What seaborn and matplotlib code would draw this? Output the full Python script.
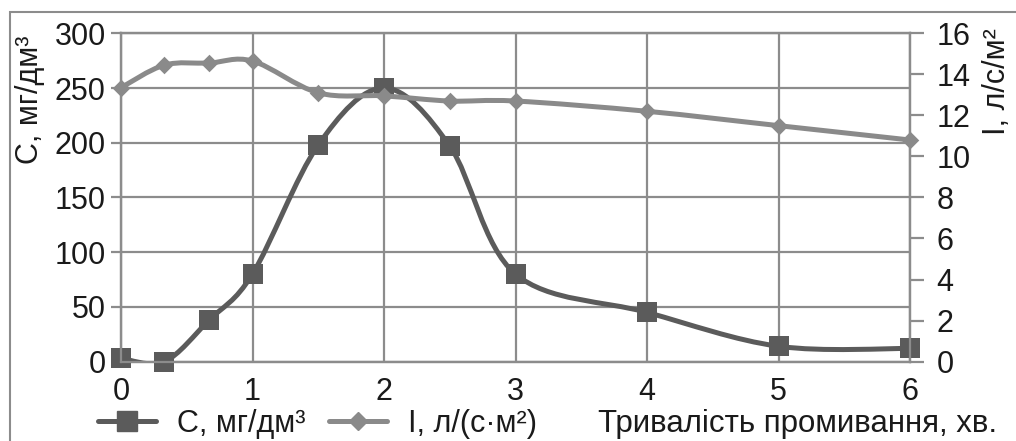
import numpy as np
import pandas as pd
import seaborn as sns
import matplotlib
matplotlib.use("Agg")
import matplotlib.pyplot as plt
from matplotlib.path import Path
from matplotlib.patches import PathPatch, Rectangle
from matplotlib.lines import Line2D

# ---- data ----
time_min = [0, 0.33, 0.67, 1, 1.5, 2, 2.5, 3, 4, 5, 6]
conc = [3, 0, 38, 80, 198, 250, 197, 80, 45, 14, 12]
flux = [13.35, 14.45, 14.55, 14.65, 13.1, 12.95, 12.7, 12.7, 12.2, 11.5, 10.8]
x_ticks = [0, 1, 2, 3, 4, 5, 6]
c_ticks = [0, 50, 100, 150, 200, 250, 300]
i_ticks = [0, 2, 4, 6, 8, 10, 12, 14, 16]
label_c = "C, мг/дм³"
label_i = "I, л/(с·м²)"
label_i_axis = "I, л/с/м²"
label_x = "Тривалість промивання, хв."

df = pd.DataFrame({"t": time_min, "C": conc, "I": flux})

sns.set_theme(style="white")
plt.rcParams["font.family"] = ["Liberation Sans", "DejaVu Sans"]

FS = 22
C_COL = "#5b5b5b"
I_COL = "#8a8a8a"
GRID = "#8c8c8c"
TXT = "#1a1a1a"


def smooth_path(x, y):
    x = list(x); y = list(y)
    n = len(x)
    verts = [(x[0], y[0])]
    codes = [Path.MOVETO]
    for i in range(n - 1):
        x0, y0 = (x[i - 1], y[i - 1]) if i > 0 else (x[i], y[i])
        x3, y3 = (x[i + 2], y[i + 2]) if i + 2 < n else (x[i + 1], y[i + 1])
        c1 = (x[i] + (x[i + 1] - x0) / 6, y[i] + (y[i + 1] - y0) / 6)
        c2 = (x[i + 1] - (x3 - x[i]) / 6, y[i + 1] - (y3 - y[i]) / 6)
        verts += [c1, c2, (x[i + 1], y[i + 1])]
        codes += [Path.CURVE4] * 3
    return Path(verts, codes)


fig = plt.figure(figsize=(10.16, 4.41), dpi=100)
fig.patch.set_facecolor("white")
ax = fig.add_axes([121 / 1016, 1 - 361.6 / 441, (910 - 121) / 1016, (361.6 - 33.3) / 441])
ax2 = ax.twinx()

# outer chart border
fig.patches.append(Rectangle((10 / 1016, -0.2), 1.2, 1 - 12 / 441 + 0.2,
                             transform=fig.transFigure, fill=False,
                             edgecolor="#8c8c8c", linewidth=1.5, zorder=0))

ax.grid(True, color=GRID, linewidth=1.6, zorder=0)
ax.set_axisbelow(True)
ax2.grid(False)

for a in (ax, ax2):
    for s in a.spines.values():
        s.set_color(GRID)
        s.set_linewidth(1.6)

# C series
ax.add_patch(PathPatch(smooth_path(df["t"], df["C"]), fill=False, edgecolor=C_COL,
                       linewidth=3.6, zorder=3, capstyle="round", joinstyle="round"))
sns.scatterplot(data=df, x="t", y="C", ax=ax, marker="s", s=190, color=C_COL,
                edgecolor=C_COL, linewidth=0, zorder=4, legend=False, clip_on=False)

# I series
ax2.add_patch(PathPatch(smooth_path(df["t"], df["I"]), fill=False, edgecolor=I_COL,
                        linewidth=3.6, zorder=3, capstyle="round", joinstyle="round"))
sns.scatterplot(data=df, x="t", y="I", ax=ax2, marker="D", s=80, color=I_COL,
                edgecolor=I_COL, linewidth=0, zorder=4, legend=False, clip_on=False)

for a in (ax, ax2):
    a.set_xlim(0, 6)
    a.set_xlabel("")
    a.set_ylabel("")
ax.set_ylim(0, 300)
ax2.set_ylim(0, 16)
ax.set_xticks(x_ticks)
ax.set_yticks(c_ticks)
ax2.set_yticks(i_ticks)

ax.tick_params(axis="both", colors=GRID, labelcolor=TXT, labelsize=FS,
               direction="out", length=7, width=1.6, pad=4)
ax.tick_params(axis="x", length=8, pad=3)
ax2.tick_params(axis="y", colors=GRID, labelcolor=TXT, labelsize=FS,
                direction="out", length=10, width=1.6, pad=9)

# axis titles
fig.text(30 / 1016, 1 - 100 / 441, label_c, rotation=90, ha="center", va="center",
         fontsize=FS, color=TXT)
fig.text(997 / 1016, 1 - 82 / 441, label_i_axis, rotation=90, ha="center", va="center",
         fontsize=FS, color=TXT)

# legend
LEG_Y = 1 - 424 / 441
handles = [Line2D([0], [0], color=C_COL, lw=3.6, marker="s", markersize=14.5),
           Line2D([0], [0], color=I_COL, lw=3.6, marker="D", markersize=9.5)]
fig.legend(handles, [label_c, label_i], loc="center left",
           bbox_to_anchor=(98 / 1016, LEG_Y), ncol=2, frameon=False,
           fontsize=FS, handlelength=1.9, handletextpad=0.7, columnspacing=0.75,
           borderaxespad=0, borderpad=0, labelcolor=TXT)
fig.text(598 / 1016, LEG_Y, label_x, ha="left", va="center",
         fontsize=22.5, color=TXT)

fig.savefig("out.png", dpi=100, facecolor="white")
